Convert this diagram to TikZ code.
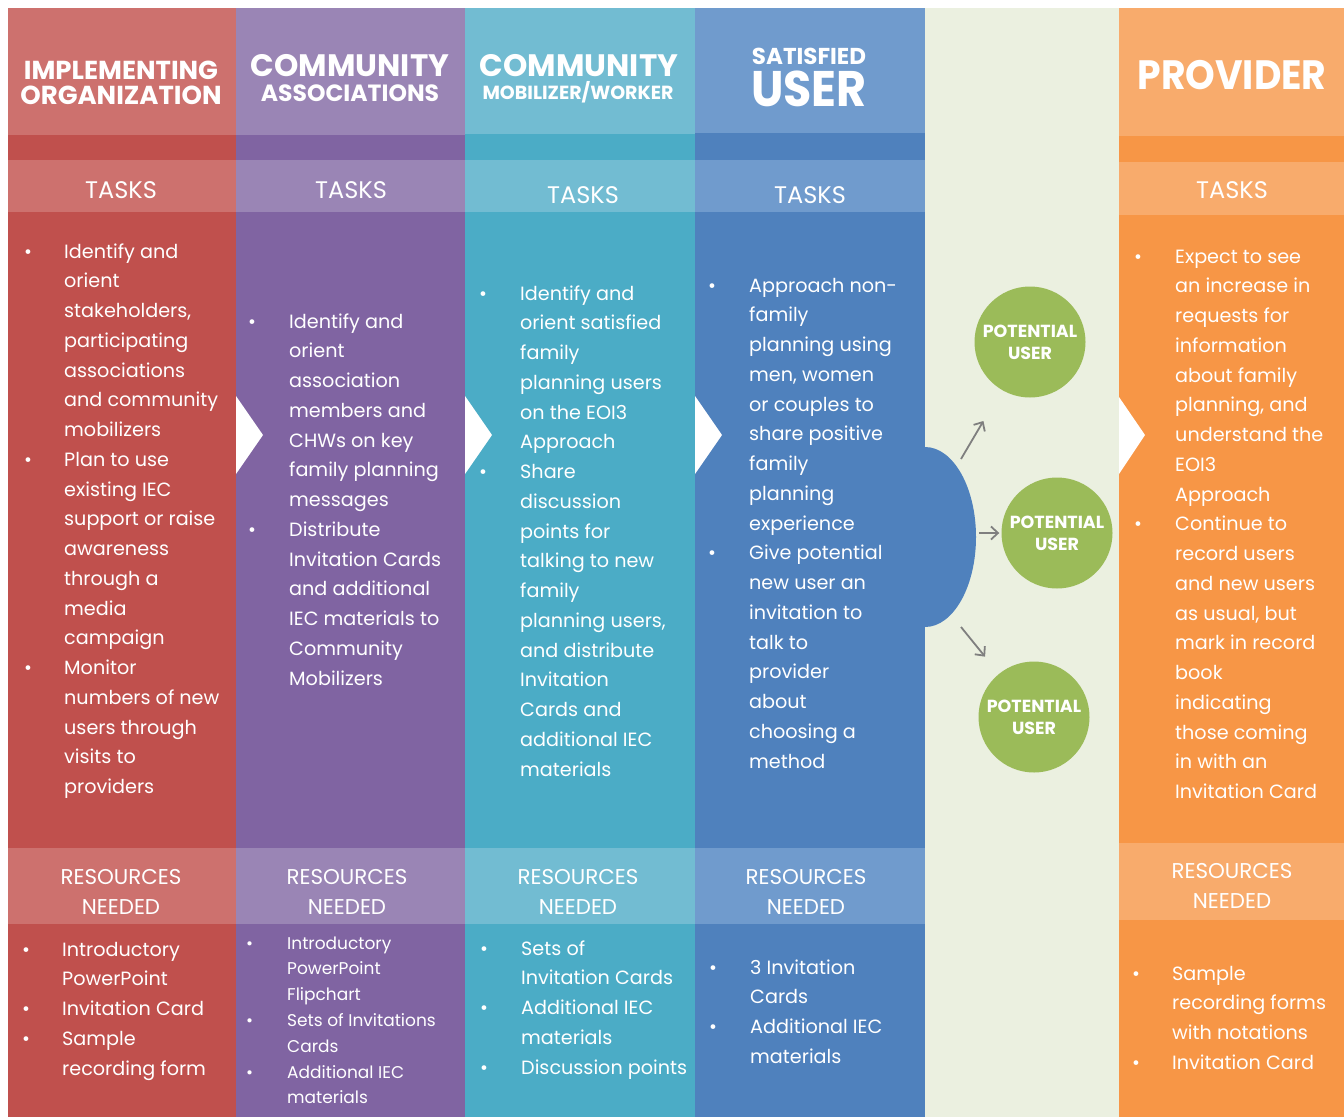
\documentclass[tikz,border=0pt]{standalone}
\usepackage{fontspec}
\setmainfont{Poppins}
\newfontfamily\headfont{Poppins}
\newfontfamily\narrowfont[FakeStretch=0.92]{Poppins}
\usetikzlibrary{arrows.meta, positioning}

\definecolor{redL}{HTML}{CD716E}
\definecolor{redD}{HTML}{C0504D}
\definecolor{purL}{HTML}{9A85B5}
\definecolor{purD}{HTML}{8064A2}
\definecolor{tealL}{HTML}{72BCD2}
\definecolor{tealD}{HTML}{4BACC6}
\definecolor{bluL}{HTML}{709BCD}
\definecolor{bluD}{HTML}{4F81BD}
\definecolor{oraL}{HTML}{F8AB6C}
\definecolor{oraD}{HTML}{F79646}
\definecolor{paleG}{HTML}{EBF0E0}
\definecolor{userG}{HTML}{9BBB59}
\definecolor{linkG}{HTML}{7F7F7F}

\newcommand{\bulletlist}[2]{\begin{tabular}[t]{@{}p{#1}@{}l@{}}#2\end{tabular}}

\begin{document}
\begin{tikzpicture}[x=1pt, y=-1pt,
                head style/.style={text=white, font=\headfont\bfseries, inner sep=0pt},
                task style/.style={text=white, font=\fontsize{24}{28}\selectfont, inner sep=0pt},
                res style/.style={text=white, font=\fontsize{21.4}{30}\selectfont, align=center, inner sep=0pt},
                list style/.style={text=white, anchor=base west, inner sep=0pt, font=\fontsize{19.2}{29.75}\selectfont},
                user style/.style={circle, fill=userG, text=white, minimum size=111pt, inner sep=0pt, align=center, font=\headfont\bfseries\fontsize{17.5}{22}\selectfont},
                link/.style={draw=linkG, line width=1.8pt, -{Straight Barb[length=7pt, width=13pt]}}
]
    \useasboundingbox (0,0) rectangle (1344,1117);
    \fill[white] (0,0) rectangle (1344,1117);

    % Column backgrounds
        \fill[redD] (8,8) rectangle (236,1117);
        \fill[redL] (8,8) rectangle (236,135);
        \fill[redL] (8,160) rectangle (236,212);
        \fill[redL] (8,848) rectangle (236,924);

        \fill[purD] (236,8) rectangle (465,1117);
        \fill[purL] (236,8) rectangle (465,135);
        \fill[purL] (236,160) rectangle (465,212);
        \fill[purL] (236,848) rectangle (465,924);

        \fill[tealD] (465,8) rectangle (695,1117);
        \fill[tealL] (465,8) rectangle (695,134);
        \fill[tealL] (465,160) rectangle (695,212);
        \fill[tealL] (465,848) rectangle (695,924);

        \fill[bluD] (695,8) rectangle (925,1117);
        \fill[bluL] (695,8) rectangle (925,133);
        \fill[bluL] (695,160) rectangle (925,212);
        \fill[bluL] (695,848) rectangle (925,924);

        \fill[paleG] (925,8) rectangle (1119,1117);

        \fill[oraD] (1119,8) rectangle (1344,1117);
        \fill[oraL] (1119,8) rectangle (1344,136);
        \fill[oraL] (1119,162) rectangle (1344,215);
        \fill[oraL] (1119,843) rectangle (1344,920);

    % Bulge of the satisfied user
        \fill[bluD] (925,537) ellipse [x radius=51, y radius=90];

    % Chevrons between columns
        \fill[white] (236,396) -- (263,435) -- (236,474) -- cycle;
        \fill[white] (465,396) -- (492,435) -- (465,474) -- cycle;
        \fill[white] (695,396) -- (722,435) -- (695,474) -- cycle;
        \fill[white] (1119,397) -- (1145,435) -- (1119,474) -- cycle;

    % Headers
        \node[head style, font=\headfont\bfseries\fontsize{26}{27}\selectfont] (impl) at (121,70) {IMPLEMENTING};
        \node[head style, font=\headfont\bfseries\fontsize{26}{27}\selectfont] (org) at (121,95) {ORGANIZATION};
        \node[head style, font=\headfont\bfseries\fontsize{31}{32}\selectfont] (comm1) at (350,66) {COMMUNITY};
        \node[head style, font=\headfont\bfseries\fontsize{23.5}{24}\selectfont] (assoc) at (350,93) {ASSOCIATIONS};
        \node[head style, font=\headfont\bfseries\fontsize{31}{32}\selectfont] (comm2) at (579,66) {COMMUNITY};
        \node[head style, font=\headfont\bfseries\fontsize{19}{20}\selectfont] (mob) at (578,92) {MOBILIZER/WORKER};
        \node[head style, font=\headfont\bfseries\fontsize{23}{24}\selectfont] (sat) at (809,56) {SATISFIED};
        \node[head style, font=\narrowfont\bfseries\fontsize{50}{52}\selectfont] (user) at (809,89) {USER};
        \node[head style, font=\narrowfont\bfseries\fontsize{41}{42}\selectfont] (prov) at (1232,75) {PROVIDER};

    % Tasks bands
        \node[task style] (t1) at (121,190) {TASKS};
        \node[task style] (t2) at (351,190) {TASKS};
        \node[task style] (t3) at (583,195) {TASKS};
        \node[task style] (t4) at (810,195) {TASKS};
        \node[task style] (t5) at (1232,190) {TASKS};

    % Resources bands
        \node[res style] (r1) at (121,892) {RESOURCES\\NEEDED};
        \node[res style] (r2) at (347,892) {RESOURCES\\NEEDED};
        \node[res style] (r3) at (578,892) {RESOURCES\\NEEDED};
        \node[res style] (r4) at (806,892) {RESOURCES\\NEEDED};
        \node[res style] (r5) at (1232,886) {RESOURCES\\NEEDED};

    % Task lists
        \node[list style] (l1) at (24,258) {\bulletlist{40pt}{%
            \textbullet & Identify and\\ & orient\\ & stakeholders,\\ & participating\\ & associations\\ & and community\\ & mobilizers\\
            \textbullet & Plan to use\\ & existing IEC\\ & support or raise\\ & awareness\\ & through a\\ & media\\ & campaign\\
            \textbullet & Monitor\\ & numbers of new\\ & users through\\ & visits to\\ & providers}};
        \node[list style] (l2) at (248,328) {\bulletlist{41pt}{%
            \textbullet & Identify and\\ & orient\\ & association\\ & members and\\ & CHWs on key\\ & family planning\\ & messages\\
            \textbullet & Distribute\\ & Invitation Cards\\ & and additional\\ & IEC materials to\\ & Community\\ & Mobilizers}};
        \node[list style] (l3) at (479,300) {\bulletlist{41pt}{%
            \textbullet & Identify and\\ & orient satisfied\\ & family\\ & planning users\\ & on the EOI3\\ & Approach\\
            \textbullet & Share\\ & discussion\\ & points for\\ & talking to new\\ & family\\ & planning users,\\ & and distribute\\ & Invitation\\ & Cards and\\ & additional IEC\\ & materials}};
        \node[list style] (l4) at (708,292) {\bulletlist{41pt}{%
            \textbullet & Approach non-\\ & family\\ & planning using\\ & men, women\\ & or couples to\\ & share positive\\ & family\\ & planning\\ & experience\\
            \textbullet & Give potential\\ & new user an\\ & invitation to\\ & talk to\\ & provider\\ & about\\ & choosing a\\ & method}};
        \node[list style] (l5) at (1134,263) {\bulletlist{41pt}{%
            \textbullet & Expect to see\\ & an increase in\\ & requests for\\ & information\\ & about family\\ & planning, and\\ & understand the\\ & EOI3\\ & Approach\\
            \textbullet & Continue to\\ & record users\\ & and new users\\ & as usual, but\\ & mark in record\\ & book\\ & indicating\\ & those coming\\ & in with an\\ & Invitation Card}};

    % Resource lists
        \node[list style] (m1) at (22,956) {\bulletlist{40pt}{%
            \textbullet & Introductory\\ & PowerPoint\\ \textbullet & Invitation Card\\ \textbullet & Sample\\ & recording form}};
        \node[list style, font=\fontsize{17}{25.8}\selectfont] (m2) at (246,949) {\bulletlist{41pt}{%
            \textbullet & Introductory\\ & PowerPoint\\ & Flipchart\\ \textbullet & Sets of Invitations\\ & Cards\\ \textbullet & Additional IEC\\ & materials}};
        \node[list style] (m3) at (480,955) {\bulletlist{41pt}{%
            \textbullet & Sets of\\ & Invitation Cards\\ \textbullet & Additional IEC\\ & materials\\ \textbullet & Discussion points}};
        \node[list style] (m4) at (709,974) {\bulletlist{41pt}{%
            \textbullet & 3 Invitation\\ & Cards\\ \textbullet & Additional IEC\\ & materials}};
        \node[list style] (m5) at (1132,980) {\bulletlist{40pt}{%
            \textbullet & Sample\\ & recording forms\\ & with notations\\ \textbullet & Invitation Card}};

    % Potential users
        \node[user style] (u1) at (1030,342) {POTENTIAL\\USER};
        \node[user style] (u2) at (1057,533) {POTENTIAL\\USER};
        \node[user style] (u3) at (1034,717) {POTENTIAL\\USER};

    % Arrows from the satisfied user
        \coordinate (s1) at (961,459);
        \coordinate (s2) at (979,533);
        \coordinate (s3) at (961,627);
        \draw[link, shorten >=36pt] (s1) -- (u1);
        \draw[link, shorten >=2pt] (s2) -- (u2);
        \draw[link, shorten >=22pt] (s3) -- (u3);
\end{tikzpicture}
\end{document}
